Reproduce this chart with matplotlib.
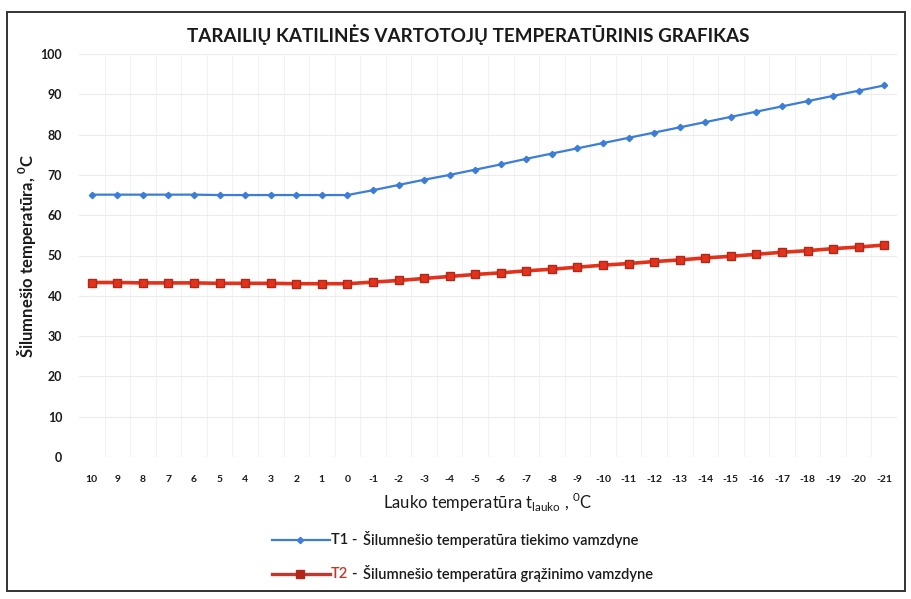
import matplotlib
matplotlib.use("Agg")
import matplotlib.pyplot as plt
from matplotlib.lines import Line2D
from matplotlib.patches import Rectangle

# ---- data ----
outdoor = [10, 9, 8, 7, 6, 5, 4, 3, 2, 1, 0, -1, -2, -3, -4, -5, -6, -7, -8, -9, -10,
           -11, -12, -13, -14, -15, -16, -17, -18, -19, -20, -21]
t1_supply = [65.1, 65.1, 65.1, 65.1, 65.1, 65.0, 65.0, 65.0, 65.0, 65.0, 65.0,
             66.2, 67.5, 68.8, 70.0, 71.3, 72.6, 74.0, 75.3, 76.6, 77.9,
             79.2, 80.5, 81.8, 83.1, 84.4, 85.7, 87.0, 88.3, 89.6, 90.9, 92.2]
t2_return = [43.3, 43.3, 43.2, 43.2, 43.2, 43.1, 43.1, 43.1, 43.0, 43.0, 43.0,
             43.4, 43.8, 44.3, 44.8, 45.3, 45.7, 46.2, 46.6, 47.1, 47.6,
             48.0, 48.5, 48.9, 49.4, 49.8, 50.3, 50.8, 51.2, 51.7, 52.1, 52.6]
y_ticks = [0, 10, 20, 30, 40, 50, 60, 70, 80, 90, 100]

plt.rcParams['font.family'] = ['Lato', 'DejaVu Sans']

fig = plt.figure(figsize=(9.11, 5.99), dpi=100)
W, H = 911, 599
ax = fig.add_axes([79 / W, 1 - 457 / H, (897 - 79) / W, (457 - 54) / H])

idx = list(range(len(outdoor)))
ax.plot(idx, t1_supply, color='#3b7dd8', lw=1.6, marker='D', ms=3.2,
        mfc='#3b7dd8', mec='#3b7dd8', clip_on=False, zorder=3)
ax.plot(idx, t2_return, color='#e2321b', lw=2.6, marker='s', ms=5.5,
        mfc='#e2321b', mec='#b0281a', clip_on=False, zorder=3)

ax.set_xlim(-0.5, len(outdoor) - 0.5)
ax.set_ylim(0, 100)
ax.set_yticks(y_ticks)
ax.set_yticklabels([str(v) for v in y_ticks])
ax.set_xticks(idx)
ax.set_xticklabels([str(v) for v in outdoor])
for s in ax.spines.values():
    s.set_visible(False)
ax.tick_params(axis='both', length=0)
ax.tick_params(axis='y', pad=12, labelsize=9)
ax.tick_params(axis='x', pad=13, labelsize=7.5)
for lab in ax.get_yticklabels() + ax.get_xticklabels():
    lab.set_fontweight('bold')
    lab.set_color('#1a1a1a')

ax.yaxis.grid(True, color='#ececec', lw=0.8)
ax.set_xticks([i + 0.5 for i in idx[:-1]], minor=True)
ax.xaxis.grid(True, which='minor', color='#f2f2f2', lw=0.8)
ax.tick_params(axis='x', which='minor', length=0)
ax.set_axisbelow(True)

ax.set_xlabel('Lauko temperatūra t$_{\\mathregular{lauko}}$ , $^{\\mathregular{0}}$C',
              fontsize=12, color='#1a1a1a', labelpad=5)
ax.set_ylabel('Šilumnešio temperatūra, $^{\\mathregular{0}}$C',
              fontsize=12, fontweight='bold', color='#1a1a1a')
ax.yaxis.set_label_coords(-0.050, 0.50)

fig.text(468 / W, 1 - 35 / H, 'TARAILIŲ KATILINĖS VARTOTOJŲ TEMPERATŪRINIS GRAFIKAS',
         ha='center', va='center', fontsize=13.6, fontweight='bold', color='#1a1a1a')

# frame
fig.add_artist(Rectangle((7 / W, 1 - 591 / H), (905 - 7) / W, (591 - 12) / H,
                         transform=fig.transFigure, fill=False, ec='#333333', lw=1.4))

# legend (manual)
y1 = 1 - 540 / H
y2 = 1 - 574 / H
fig.add_artist(Line2D([272 / W, 330 / W], [y1, y1], color='#3b7dd8', lw=1.6,
                      transform=fig.transFigure))
fig.add_artist(Line2D([300 / W], [y1], color='#3b7dd8', marker='D', ms=3.2,
                      transform=fig.transFigure))
fig.add_artist(Line2D([272 / W, 330 / W], [y2, y2], color='#c0392b', lw=2.4,
                      transform=fig.transFigure))
fig.add_artist(Line2D([300 / W], [y2], color='#b0281a', marker='s', ms=5.5,
                      transform=fig.transFigure))
fs = 10.5
fig.text(331 / W, y1, 'T1 -', ha='left', va='center', fontsize=fs, color='#1a1a1a',
         fontweight='semibold')
fig.text(363 / W, y1, 'Šilumnešio temperatūra tiekimo vamzdyne', ha='left', va='center',
         fontsize=fs, color='#1a1a1a', fontweight='semibold')
fig.text(331 / W, y2, 'T2', ha='left', va='center', fontsize=fs, color='#c0392b',
         fontweight='semibold')
fig.text(351 / W, y2, '-', ha='left', va='center', fontsize=fs, color='#1a1a1a',
         fontweight='semibold')
fig.text(363 / W, y2, 'Šilumnešio temperatūra grąžinimo vamzdyne', ha='left', va='center',
         fontsize=fs, color='#1a1a1a', fontweight='semibold')

fig.savefig('out.png', dpi=100)
